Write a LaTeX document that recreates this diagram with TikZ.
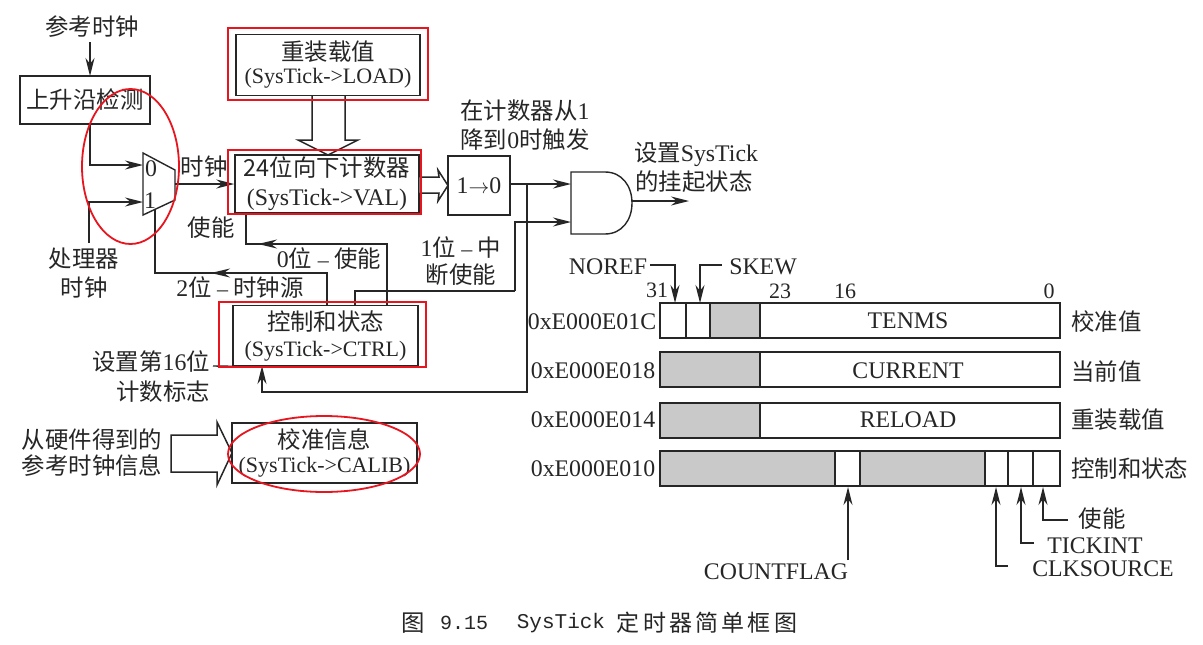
\documentclass[tikz,border=0pt]{standalone}
\usepackage{fontspec}
\setmainfont{Liberation Serif}
\setmonofont{Liberation Mono}
\newfontfamily\cjk{Noto Sans CJK SC}
\newfontfamily\cjkcap[LetterSpace=14]{Noto Sans CJK SC}
\newcommand\cj[1]{{\cjk\fontsize{23.4}{29}\selectfont #1}}
\newcommand\lat[1]{{\fontsize{23.8}{29}\selectfont #1}}
\usetikzlibrary{arrows.meta}
\definecolor{ink}{HTML}{262626}
\definecolor{mark}{HTML}{E8141E}
\definecolor{shade}{HTML}{C9C9C9}
\tikzset{
  base/.style={x=1pt,y=-1pt},
  wire/.style={draw=ink,line width=1.4pt,line join=miter},
  arr/.style={wire,-{Stealth[length=18pt,width=9pt]}},
  lbl/.style={text=ink,inner sep=0pt,font=\fontsize{22}{29}\selectfont,align=center},
  boxn/.style={lbl,draw=ink,line width=1.5pt,fill=white},
  hollow/.style={draw=ink,line width=1.5pt,fill=white,line join=miter},
  redbox/.style={draw=mark,line width=2.2pt},
  redell/.style={draw=mark,line width=1.8pt},
  cell/.style={draw=ink,line width=1.5pt,fill=white},
  gray/.style={draw=ink,line width=1.5pt,fill=shade},
}
\begin{document}
\begin{tikzpicture}[base]
\useasboundingbox (0,0) rectangle (1203,645);
\fill[white] (0,0) rectangle (1203,645);

% --- left block diagram
\node[lbl] (ref) at (92,27) {\cj{参考时钟}};
\node[boxn,minimum width=130pt,minimum height=48pt] (detect) at (85,100) {\cj{上升沿检测}};
\coordinate (refin) at (90,42);
\coordinate (refout) at (90,76);
\draw[arr] (refin) -- (refout);

\node[boxn,minimum width=184pt,minimum height=61pt] (load) at (328,65) {\cj{重装载值}\\[-6pt](SysTick->LOAD)};
\node[boxn,minimum width=184pt,minimum height=58pt] (val) at (327,184) {\raisebox{-2pt}{\cj{24位向下计数器}}\\\raisebox{-2pt}{\lat{(SysTick->VAL)}}};
\node[boxn,minimum width=185pt,minimum height=60pt] (ctrl) at (325.5,335.5) {\cj{控制和状态}\\[-3pt](SysTick->CTRL)};
\node[boxn,minimum width=185pt,minimum height=60pt] (calib) at (324.5,453) {\cj{校准信息}\\[-5pt](SysTick->CALIB)};
\node[boxn,minimum width=62pt,minimum height=59pt] (edge) at (479,185.5) {\lat{1}$\rightarrow$\lat{0}};

% hollow arrows
\coordinate (la) at (312,96);
\coordinate (lb) at (345,96);
\coordinate (lt) at (328,155);
\filldraw[hollow] (la) -- (312,140) -- (298,140) -- (lt) -- (358,140) -- (345,140) -- (lb);
\coordinate (va) at (419.5,177);
\coordinate (vb) at (419.5,193);
\coordinate (vt) at (448,185.5);
\filldraw[hollow] (va) -- (439,177) -- (438,170) -- (vt) -- (438,201) -- (439,193) -- (vb);
\coordinate (ca) at (171,435);
\coordinate (cb) at (171,472);
\coordinate (ct) at (232,453);
\filldraw[hollow] (ca) -- (217,435) -- (217,422) -- (ct) -- (217,485) -- (217,472) -- (cb) -- cycle;

% multiplexer
\coordinate (m0) at (143,165);
\coordinate (m1) at (143,202);
\coordinate (mo) at (175,184);
\coordinate (ms) at (155,210);
\draw[wire,fill=white] (143,153) -- (175,170) -- (175,200) -- (143,215) -- cycle;
\node[lbl] (mux0) at (151,169) {\lat{0}};
\node[lbl] (mux1) at (150,201) {\lat{1}};

\coordinate (d0) at (90,124);
\draw[arr] (d0) |- (m0);
\node[lbl] (cpu) at (84,259) {\cj{处理器}};
\node[lbl] (cpu2) at (84,288) {\cj{时钟}};
\coordinate (cpuin) at (89,243);
\draw[arr] (cpuin) |- (m1);
\draw[arr] (mo) -- (val.west |- mo);
\node[lbl] (clk) at (204,167) {\cj{时钟}};
\node[lbl] (en) at (211,228) {\cj{使能}};

% enable return
\coordinate (ven) at (246,213);
\coordinate (cen) at (387,305.5);
\coordinate (enb) at (246,244);
\draw[wire] (ven) -- (enb) -| (cen);
\coordinate (ena) at (277,244);
\coordinate (enc) at (258,244);
\draw[wire,-{Stealth[length=19pt,width=9pt]}] (ena) -- (enc);
\node[lbl] (zero) at (329,259) {\lat{0}\cj{位} – \cj{使能}};

% clock source return
\coordinate (csrc) at (327,305.5);
\coordinate (csb) at (155,273);
\draw[wire] (csrc) |- (csb) -- (ms);
\coordinate (csa) at (231,273);
\coordinate (csc) at (211,273);
\draw[wire,-{Stealth[length=19pt,width=9pt]}] (csa) -- (csc);
\node[lbl] (two) at (240,288) {\lat{2}\cj{位} – \cj{时钟源}};

% AND gate
\coordinate (g0) at (571,184);
\coordinate (g1) at (571,222);
\coordinate (go) at (632,201);
\draw[wire,fill=white] (571,172) -- (605,172) .. controls (622,172) and (632,186) .. (632,203) .. controls (632,220) and (622,234) .. (605,234) -- (571,234) -- cycle;
\draw[arr] (edge.east |- g0) -- (g0);
\coordinate (int) at (355,305.5);
\coordinate (intb) at (515,291);
\draw[wire] (int) |- (intb);
\draw[arr] (intb) |- (g1);
\coordinate (gout) at (689,201);
\draw[arr] (go) -- (gout);

% count flag path
\coordinate (jn) at (527,184);
\coordinate (cf) at (262,366);
\coordinate (jb) at (527,392);
\draw[arr] (jn) -- (jb) -| (cf);

\node[lbl] (t1) at (525,111) {\cj{在计数器从}\lat{1}};
\node[lbl] (t2) at (525,140) {\cj{降到}\lat{0}\cj{时触发}};
\node[lbl] (t3) at (696,154) {\cj{设置}\lat{SysTick}};
\node[lbl] (t4) at (694,182) {\cj{的挂起状态}};
\node[lbl] (t5) at (461,248) {\lat{1}\cj{位} – \cj{中}};
\node[lbl] (t6) at (461,275) {\cj{断使能}};
\node[lbl,anchor=east] (t7) at (210,362) {\cj{设置第}\lat{16}\cj{位}};
\node[lbl,anchor=east] (t8) at (210,392) {\cj{计数标志}};
\coordinate (dash) at (213,366);
\draw[wire] (dash) -- (ctrl.south west);
\node[lbl] (t9) at (92,440) {\cj{从硬件得到的}};
\node[lbl] (t10) at (92,466) {\cj{参考时钟信息}};

% registers
\draw[cell] (660,303) rectangle (1060,338);
\draw[gray] (710,303) rectangle (760,338);
\draw[wire] (686,303) -- (686,338);
\draw[cell] (660,352) rectangle (1060,387);
\draw[gray] (660,352) rectangle (760,387);
\draw[cell] (660,403) rectangle (1060,438);
\draw[gray] (660,403) rectangle (760,438);
\draw[cell] (660,451) rectangle (1060,486);
\draw[gray] (660,451) rectangle (835,486);
\draw[gray] (860,451) rectangle (985,486);
\draw[wire] (1008,451) -- (1008,486);
\draw[wire] (1033,451) -- (1033,486);

\node[lbl] (f1) at (908,321) {\lat{TENMS}};
\node[lbl] (f2) at (908,371) {\lat{CURRENT}};
\node[lbl] (f3) at (908,420) {\lat{RELOAD}};
\node[lbl] (a1) at (592,322) {\lat{0xE000E01C}};
\node[lbl] (a2) at (593,371) {\lat{0xE000E018}};
\node[lbl] (a3) at (593,420) {\lat{0xE000E014}};
\node[lbl] (a4) at (593,469) {\lat{0xE000E010}};
\node[lbl,anchor=west] (r1) at (1071,322) {\cj{校准值}};
\node[lbl,anchor=west] (r2) at (1071,372) {\cj{当前值}};
\node[lbl,anchor=west] (r3) at (1071,420) {\cj{重装载值}};
\node[lbl,anchor=west] (r4) at (1071,469) {\cj{控制和状态}};
\node[lbl] (b31) at (657,290) {31};
\node[lbl] (b23) at (780,291) {23};
\node[lbl] (b16) at (845,291) {16};
\node[lbl] (b0) at (1049,291) {0};

\node[lbl] (noref) at (608,267) {\lat{NOREF}};
\node[lbl] (skew) at (763,267) {\lat{SKEW}};
\coordinate (nr) at (675,303);
\coordinate (sk) at (700,303);
\coordinate (nrs) at (650,265);
\coordinate (sks) at (722,265);
\draw[arr] (nrs) -| (nr);
\draw[arr] (sks) -| (sk);

\node[lbl] (cfl) at (776,572) {\lat{COUNTFLAG}};
\node[lbl] (uen) at (1102,519) {\cj{使能}};
\node[lbl] (tki) at (1095,546) {\lat{TICKINT}};
\node[lbl] (cks) at (1103,569) {\lat{CLKSOURCE}};
\coordinate (cfs) at (848,560);
\coordinate (cft) at (848,487);
\draw[arr] (cfs) -- (cft);
\coordinate (cks0) at (1008,566);
\coordinate (cks1) at (996,487);
\draw[arr] (cks0) -| (cks1);
\coordinate (tk0) at (1034,543);
\coordinate (tk1) at (1021,487);
\draw[arr] (tk0) -| (tk1);
\coordinate (ue0) at (1068,520);
\coordinate (ue1) at (1043,487);
\draw[arr] (ue0) -| (ue1);

% caption
\node[lbl] (c1) at (413,623) {\cj{图}};
\node[lbl,font=\ttfamily\fontsize{20}{25}\selectfont] (c2) at (464,623) {9.15};
\node[lbl,font=\ttfamily\fontsize{21}{25}\selectfont] (c3) at (561,623) {SysTick};
\node[lbl] (c4) at (707,623) {{\cjkcap\fontsize{23}{29}\selectfont 定时器简单框图}};

% red marks
\draw[redbox] (228,28) rectangle (428,100);
\draw[redbox] (228,150) rectangle (421,214);
\draw[redbox] (219,302) rectangle (426,367);
\draw[redell] (130.5,166.5) ellipse [x radius=48.5,y radius=77.5];
\draw[redell] (324,454) ellipse [x radius=96,y radius=38];
\end{tikzpicture}
\end{document}
